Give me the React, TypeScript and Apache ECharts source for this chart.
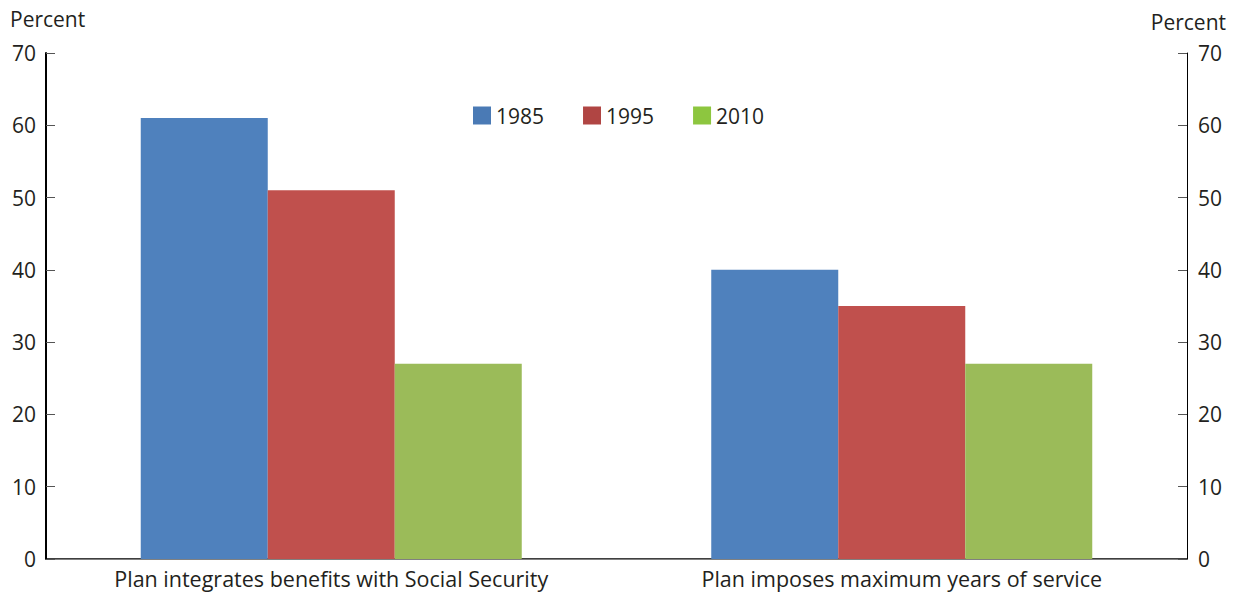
import React, { useEffect, useRef } from "react";
import * as echarts from "echarts";

const categories = [
  "Plan integrates benefits with Social Security",
  "Plan imposes maximum years of service",
];
const years = ["1985", "1995", "2010"];
const values1985 = [61, 40];
const values1995 = [51, 35];
const values2010 = [27, 27];
const yTicks = { min: 0, max: 70, interval: 10 };

const barColors = ["#4F81BD", "#C0504D", "#9BBB59"];
const legendColors = ["#4A7AB5", "#B04543", "#8DC63F"];
const FONT = "'Open Sans', 'Noto Sans', sans-serif";
const TXT = "#231F20";

export default function App() {
  const ref = useRef<HTMLDivElement>(null);
  useEffect(() => {
    document.body.style.margin = "0";
    const chart = echarts.init(ref.current!, null, { renderer: "svg" });
    const seriesData = [values1985, values1995, values2010];
    chart.setOption({
      animation: false,
      textStyle: { fontFamily: FONT },
      grid: { left: 46, right: 47, top: 53, bottom: 34, containLabel: false },
      legend: {
        left: 473,
        top: 105,
        padding: 0,
        itemWidth: 18,
        itemHeight: 18,
        itemGap: 39,
        itemTextGap: 8,
        icon: "rect",
        textStyle: { fontSize: 21, color: TXT, fontFamily: FONT },
        data: years.map((y, i) => ({ name: y, itemStyle: { color: legendColors[i] } })),
      },
      xAxis: [
        {
          type: "category",
          data: categories,
          position: "bottom",
          axisLine: { lineStyle: { color: "#000", width: 1.5 } },
          axisTick: { show: false },
          axisLabel: { fontSize: 21.5, color: TXT, margin: 8, fontFamily: FONT },
        },
        {
          type: "category",
          data: categories,
          position: "top",
          axisLine: { lineStyle: { color: "#808080", width: 1 } },
          axisTick: { show: false },
          axisLabel: { show: false },
        },
      ],
      yAxis: [
        {
          type: "value",
          position: "left",
          ...yTicks,
          axisLine: { show: true, lineStyle: { color: "#000", width: 2 } },
          axisTick: { show: true, inside: true, length: 9, lineStyle: { color: "#555", width: 1 } },
          splitLine: { show: false },
          axisLabel: { fontSize: 21, color: TXT, margin: 10, fontFamily: FONT },
        },
        {
          type: "value",
          position: "right",
          ...yTicks,
          axisLine: { show: true, lineStyle: { color: "#000", width: 1 } },
          axisTick: { show: true, inside: true, length: 9, lineStyle: { color: "#555", width: 1 } },
          splitLine: { show: false },
          axisLabel: { fontSize: 21, color: TXT, margin: 11, fontFamily: FONT },
        },
      ],
      series: years.map((y, i) => ({
        name: y,
        type: "bar",
        xAxisIndex: 0,
        yAxisIndex: 0,
        data: seriesData[i],
        barWidth: 127,
        barGap: "0%",
        itemStyle: { color: barColors[i] },
      })),
      graphic: [
        {
          type: "text",
          left: 10,
          top: 8,
          style: { text: "Percent", fontSize: 21, fill: TXT, fontFamily: FONT },
        },
        {
          type: "text",
          right: 8,
          top: 11,
          style: { text: "Percent", fontSize: 21, fill: TXT, fontFamily: FONT },
        },
      ],
    });
    return () => chart.dispose();
  }, []);
  return (
    <div
      ref={ref}
      style={{ position: "absolute", left: 0, top: 0, width: 1234, height: 593 }}
    />
  );
}
